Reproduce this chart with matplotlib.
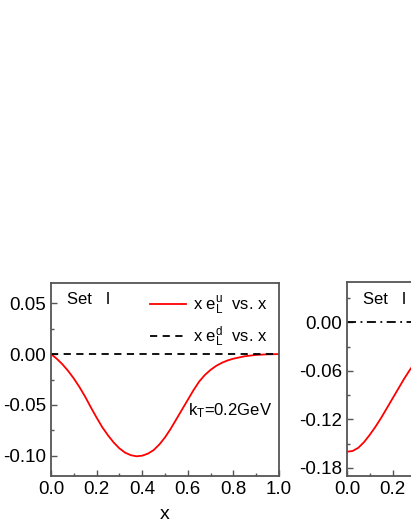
import matplotlib
matplotlib.use("Agg")
import matplotlib.pyplot as plt
from matplotlib.ticker import MultipleLocator, FormatStrFormatter

plt.rcParams['font.family'] = ['Liberation Sans', 'DejaVu Sans']
plt.rcParams['mathtext.fontset'] = 'custom'
plt.rcParams['mathtext.rm'] = 'Liberation Sans'
plt.rcParams['mathtext.it'] = 'Liberation Sans'

# Left panel: x e_L^u (k_T = 0.2 GeV), Set I
x_left = [0.0, 0.025, 0.05, 0.075, 0.1, 0.125, 0.15, 0.175, 0.2, 0.225, 0.25,
          0.275, 0.3, 0.325, 0.35, 0.375, 0.4, 0.425, 0.45, 0.475, 0.5, 0.525,
          0.55, 0.575, 0.6, 0.625, 0.65, 0.675, 0.7, 0.725, 0.75, 0.775, 0.8,
          0.85, 0.9, 0.95, 1.0]
eu_left = [0.0, -0.0045, -0.0100, -0.0165, -0.0240, -0.0325, -0.0420, -0.0525,
           -0.0625, -0.0720, -0.0800, -0.0870, -0.0928, -0.0970, -0.0995,
           -0.1006, -0.1000, -0.0980, -0.0945, -0.0890, -0.0820, -0.0735,
           -0.0640, -0.0545, -0.0450, -0.0355, -0.0270, -0.0205, -0.0155,
           -0.0115, -0.0085, -0.0062, -0.0045, -0.0021, -0.0008, -0.0002, 0.0]
ed_left = [0.0] * len(x_left)

# Right panel (only its left part is visible)
x_right = [0.0, 0.025, 0.05, 0.075, 0.1, 0.125, 0.15, 0.175, 0.2, 0.225, 0.25,
           0.275, 0.3]
eu_right = [-0.160, -0.159, -0.155, -0.148, -0.139, -0.129, -0.118, -0.106,
            -0.094, -0.082, -0.070, -0.059, -0.049]
ed_right = [0.0] * len(x_right)

W, H = 411, 532
fig = plt.figure(figsize=(W / 100, H / 100), dpi=100)

spine_col = '#555555'

def style(ax):
    for s in ax.spines.values():
        s.set_color(spine_col)
        s.set_linewidth(1.3)
    ax.tick_params(which='both', direction='in', top=False, right=False,
                   labelsize=13.5, colors='black')
    ax.tick_params(which='major', length=4, width=1, color=spine_col)
    ax.tick_params(which='minor', length=2.5, width=1, color=spine_col)

# Left axes
axL = fig.add_axes([51 / W, 1 - 476 / H, 228 / W, 193 / H])
axL.plot(x_left, eu_left, color='red', lw=1.3, label=r'x e$_{\rm L}^{\rm u}$  vs. x')
axL.plot(x_left, ed_left, color='black', lw=1.3, ls=(0, (4, 3)),
         label=r'x e$_{\rm L}^{\rm d}$  vs. x')
axL.set_xlim(0, 1.0)
axL.set_ylim(-0.12, 0.07)
axL.xaxis.set_major_locator(MultipleLocator(0.2))
axL.xaxis.set_minor_locator(MultipleLocator(0.1))
axL.yaxis.set_major_locator(MultipleLocator(0.05))
axL.yaxis.set_minor_locator(MultipleLocator(0.025))
axL.xaxis.set_major_formatter(FormatStrFormatter('%.1f'))
axL.yaxis.set_major_formatter(FormatStrFormatter('%.2f'))
style(axL)
axL.set_xlabel('x', fontsize=14, labelpad=6)
axL.text(0.07, 0.915, 'Set   I', transform=axL.transAxes, fontsize=12, va='center')
axL.text(0.97, 0.34, r'k$_{\rm T}$=0.2GeV', transform=axL.transAxes, fontsize=12,
         ha='right', va='center')
axL.legend(loc='upper right', bbox_to_anchor=(1.0, 1.0), frameon=False,
           fontsize=12, handlelength=2.2, handletextpad=0.4, labelspacing=0.45,
           borderaxespad=0.3)

# Right axes (cut by the figure edge)
vis = (W - 347) / 228.0
axR = fig.add_axes([347 / W, 1 - 476 / H, (W - 347) / W, 194 / H])
axR.plot(x_right, eu_right, color='red', lw=1.3)
axR.plot(x_right, ed_right, color='black', lw=1.3, ls=(0, (5, 2.5, 1, 2.5)))
axR.set_xlim(0, vis)
axR.set_ylim(-0.19, 0.05)
axR.xaxis.set_major_locator(MultipleLocator(0.2))
axR.xaxis.set_minor_locator(MultipleLocator(0.1))
axR.yaxis.set_major_locator(MultipleLocator(0.06))
axR.yaxis.set_minor_locator(MultipleLocator(0.03))
axR.xaxis.set_major_formatter(FormatStrFormatter('%.1f'))
axR.yaxis.set_major_formatter(FormatStrFormatter('%.2f'))
style(axR)
axR.spines['right'].set_visible(False)
axR.text(0.07 / vis, 0.91, 'Set   I', transform=axR.transAxes, fontsize=12,
         va='center')

fig.savefig('out.png', dpi=100)
